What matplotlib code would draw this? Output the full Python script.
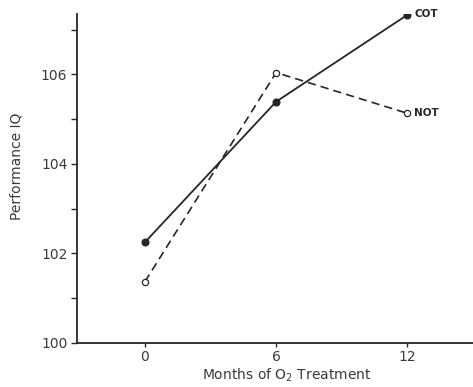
import matplotlib
matplotlib.use("Agg")
import matplotlib.pyplot as plt
from matplotlib.ticker import FixedLocator

plt.rcParams['font.family'] = ['DejaVu Sans']

months = [0, 6, 12]
cot = [102.25, 105.39, 107.33]
not_ = [101.37, 106.04, 105.13]
xticks = [0, 6, 12]
yticks = [100, 102, 104, 106]
yminor = [101, 103, 105, 107]

fig = plt.figure(figsize=(4.73, 3.87), dpi=100)
ax = fig.add_axes([0.163, 0.1137, 0.837, 0.8503])

col = '#262626'
tcol = '#3a3a3a'
ax.plot(months, cot, '-', color=col, lw=1.3, marker='o', ms=4.8,
        mfc=col, mec=col, zorder=3)
ax.plot(months, not_, '--', color=col, lw=1.2, dashes=(5, 3), marker='o', ms=4.5,
        mfc='white', mec=col, mew=0.9, zorder=3)

ax.annotate('COT', (months[-1], cot[-1]), xytext=(5, 0.5), textcoords='offset points',
            fontsize=7.5, color=col, va='center', ha='left', fontweight='bold')
ax.annotate('NOT', (months[-1], not_[-1]), xytext=(5, 0), textcoords='offset points',
            fontsize=7.5, color=col, va='center', ha='left', fontweight='bold')

ax.set_xlim(-3.1, 15.0)
ax.set_ylim(100, 107.35)
ax.set_xticks(xticks)
ax.set_yticks(yticks)
ax.yaxis.set_minor_locator(FixedLocator(yminor))
ax.tick_params(axis='both', which='both', direction='out', length=4, width=1,
               color=col, labelsize=10, labelcolor=tcol, pad=3)
ax.tick_params(axis='x', length=3, pad=2)
for s in ['top', 'right']:
    ax.spines[s].set_visible(False)
for s in ['left', 'bottom']:
    ax.spines[s].set_color(col)
    ax.spines[s].set_linewidth(1.3)

ax.set_ylabel('Performance IQ', fontsize=10, color=tcol)
ax.yaxis.set_label_coords(-0.136, 0.538)
ax.set_xlabel('Months of O$_2$ Treatment', fontsize=10, color=tcol)
ax.xaxis.set_label_coords(0.53, -0.072)

fig.savefig('out.png', dpi=100)
